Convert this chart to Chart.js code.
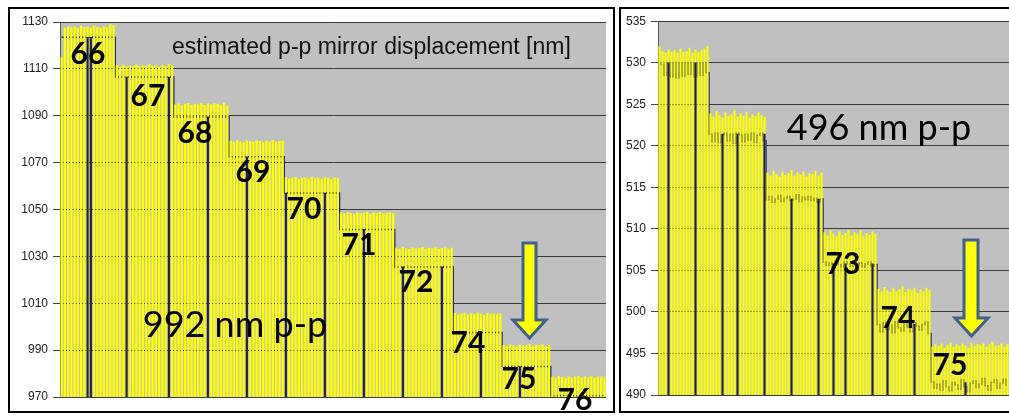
<!DOCTYPE html>
<html><head><meta charset="utf-8">
<script src="https://cdn.jsdelivr.net/npm/chart.js@4.4.1/dist/chart.umd.min.js"></script>
<style>
html,body{margin:0;padding:0;background:#fff;width:1009px;height:416px;overflow:hidden;}
body{position:relative;font-family:'Liberation Sans',Arial,sans-serif;}
.frame{position:absolute;border:2.5px solid #000;box-sizing:border-box;}
#frameL{left:8px;top:7px;width:607px;height:406px;}
#frameR{left:619px;top:7px;width:400px;height:406px;}
canvas{position:absolute;}
#cL{left:10px;top:9px;}
#cR{left:622px;top:9px;}
.lbl{position:absolute;font-family:Lato,'Open Sans',sans-serif;font-weight:700;font-size:30px;color:#000;transform:translate(-50%,-50%);line-height:1;white-space:nowrap;}
.big{position:absolute;font-family:Lato,'Open Sans',sans-serif;font-weight:400;font-size:36px;color:#000;line-height:1;white-space:nowrap;transform:translate(-50%,-50%);}
#title{position:absolute;left:172px;top:35px;font-size:23px;line-height:1;color:#111;white-space:nowrap;font-family:'Liberation Sans',Arial,sans-serif;}
svg.arrow{position:absolute;overflow:visible;}
</style>
</head><body>
<div class="frame" id="frameL"></div>
<div class="frame" id="frameR"></div>
<canvas id="cL" width="600" height="402"></canvas>
<canvas id="cR" width="387" height="402"></canvas>

<div id="title">estimated p-p mirror displacement [nm]</div>
<div class="big" style="left:235px;top:323px;">992 nm p-p</div>
<div class="big" style="left:879px;top:126px;">496 nm p-p</div>

<div class="lbl" style="left:88px;top:52px;">66</div>
<div class="lbl" style="left:148px;top:94px;">67</div>
<div class="lbl" style="left:195px;top:131px;">68</div>
<div class="lbl" style="left:253px;top:170px;">69</div>
<div class="lbl" style="left:304px;top:207px;">70</div>
<div class="lbl" style="left:359px;top:243px;">71</div>
<div class="lbl" style="left:416px;top:280px;">72</div>
<div class="lbl" style="left:468px;top:341px;">74</div>
<div class="lbl" style="left:519px;top:377px;">75</div>
<div class="lbl" style="left:575px;top:398px;">76</div>
<div class="lbl" style="left:843px;top:262px;">73</div>
<div class="lbl" style="left:898px;top:316px;">74</div>
<div class="lbl" style="left:950px;top:363px;">75</div>

<svg class="arrow" style="left:0;top:0;" width="1009" height="416">
  <polygon points="523,243 536,243 536,320 546,320 529.5,338 513,320 523,320" fill="#ffff00" stroke="#41608f" stroke-width="3" stroke-linejoin="miter"/>
  <polygon points="964,240 978,240 978,318 988,318 971.5,336 955,318 964,318" fill="#ffff00" stroke="#41608f" stroke-width="3" stroke-linejoin="miter"/>
</svg>

<script>
// ---------- LEFT PANEL (992 nm p-p) ----------
const leftTicks = [970, 990, 1010, 1030, 1050, 1070, 1090, 1110, 1130];
// yellow trace: top of each spike (nm)
const leftYellow = [
  // 66
  1115, 1127.5, 1128.3, 1127.8, 1128, 1127.6, 1128.4, 1127.9, 1128.1, 1127.7, 1128.5, 1128, 1127.6, 1128.2, 1127.8, 1129, 1128.6,
  // 67
  1111.5, 1111, 1111.8, 1110.9, 1111.4, 1111.2, 1111.9, 1111, 1111.6, 1111.3, 1112, 1111.1, 1111.5, 1110.8, 1111.7, 1111.2, 1112.1, 1111.4,
  // 68
  1094.8, 1095.2, 1094.5, 1095, 1095.4, 1094.7, 1095.1, 1094.9, 1095.5, 1094.6, 1095.2, 1094.8, 1095.3, 1095, 1094.7, 1095.6, 1094.3,
  // 69
  1079.3, 1078.8, 1079.5, 1079, 1078.6, 1079.4, 1079.1, 1078.9, 1079.6, 1079.2, 1078.7, 1079.3, 1079, 1079.5, 1078.8, 1079.2, 1079.4,
  // 70
  1063.8, 1063.2, 1063.6, 1063.9, 1063.1, 1063.5, 1063.7, 1063.3, 1064, 1063.4, 1063.6, 1063.2, 1063.8, 1063.5, 1063, 1063.7, 1063.4,
  // 71
  1048.7, 1048.3, 1048.9, 1048.5, 1048.1, 1048.8, 1048.4, 1048.6, 1049, 1048.2, 1048.7, 1048.5, 1048.9, 1048.3, 1048.6, 1048.8, 1048.4,
  // 72
  1033.7, 1033.3, 1033.9, 1033.5, 1033.1, 1033.8, 1033.4, 1033.6, 1034, 1033.2, 1033.7, 1033.5, 1033.9, 1033.3, 1033.6, 1033.8, 1033.4, 1033.7,
  // 74
  1005.8, 1005.3, 1005.6, 1006, 1005.2, 1005.7, 1005.4, 1005.9, 1005.5, 1005.1, 1005.8, 1005.4, 1005.6, 1005.3, 1005.7,
  // 75
  992.2, 991.8, 992.4, 992, 991.6, 992.3, 991.9, 992.1, 992.5, 991.7, 992.2, 992, 992.4, 991.8, 992.3,
  // 76
  978.7, 978.2, 978.9, 978.5, 978.1, 978.8, 978.4, 978.6, 979, 978.3, 978.7, 978.5, 978.9, 978.2, 978.6, 978.8, 978.4
];
// blue trace level (nm)
const leftBlue = [
  1123.5, 1123.5, 1123.5, 1123.5, 1123.5, 1123.5, 1123.5, 1123.5, 1123.5, 1123.5, 1123.5, 1123.5, 1123.5, 1123.5, 1123.5, 1123.5, 1123.5,
  1106.5, 1106.5, 1106.5, 1106.5, 1106.5, 1106.5, 1106.5, 1106.5, 1106.5, 1106.5, 1106.5, 1106.5, 1106.5, 1106.5, 1106.5, 1106.5, 1106.5, 1106.5,
  1089.5, 1089.5, 1089.5, 1089.5, 1089.5, 1089.5, 1089.5, 1089.5, 1089.5, 1089.5, 1089.5, 1089.5, 1089.5, 1089.5, 1089.5, 1089.5, 1089.5,
  1072.5, 1072.5, 1072.5, 1072.5, 1072.5, 1072.5, 1072.5, 1072.5, 1072.5, 1072.5, 1072.5, 1072.5, 1072.5, 1072.5, 1072.5, 1072.5, 1072.5,
  1057, 1057, 1057, 1057, 1057, 1057, 1057, 1057, 1057, 1057, 1057, 1057, 1057, 1057, 1057, 1057, 1057,
  1041.5, 1041.5, 1041.5, 1041.5, 1041.5, 1041.5, 1041.5, 1041.5, 1041.5, 1041.5, 1041.5, 1041.5, 1041.5, 1041.5, 1041.5, 1041.5, 1041.5,
  1025.5, 1025.5, 1025.5, 1025.5, 1025.5, 1025.5, 1025.5, 1025.5, 1025.5, 1025.5, 1025.5, 1025.5, 1025.5, 1025.5, 1025.5, 1025.5, 1025.5, 1025.5,
  997.5, 997.5, 997.5, 997.5, 997.5, 997.5, 997.5, 997.5, 997.5, 997.5, 997.5, 997.5, 997.5, 997.5, 997.5,
  983, 983, 983, 983, 983, 983, 983, 983, 983, 983, 983, 983, 983, 983, 983,
  970.5, 970.5, 970.5, 970.5, 970.5, 970.5, 970.5, 970.5, 970.5, 970.5, 970.5, 970.5, 970.5, 970.5, 970.5, 970.5, 970.5
];
// samples where the blue trace drops out to the bottom
const leftDropIdx = [8, 9, 20, 33, 45, 57, 69, 81, 93, 105, 117, 129, 141];
const leftDropVal = [1123.5, 1123.5, 1106.5, 1106.5, 1089.5, 1072.5, 1057, 1057, 1041.5, 1025.5, 1025.5, 997.5, 983];

// ---------- RIGHT PANEL (496 nm p-p) ----------
const rightTicks = [490, 495, 500, 505, 510, 515, 520, 525, 530, 535];
const rightYellow = [
  532, 531.4, 531.2, 531.6, 531.3, 531.5, 531.2, 531.7, 531.3, 531.4, 531.8, 531.2, 531.6, 531.3, 531.5, 531.7, 532,
  523.9, 523.5, 524.2, 523.7, 523.4, 524, 523.6, 523.8, 524.3, 523.5, 523.9, 523.6, 524.1, 523.4, 523.8, 523.6, 524, 523.7, 523.5,
  516.8, 516.4, 517, 516.6, 516.3, 516.9, 516.5, 516.7, 517.1, 516.4, 516.8, 516.5, 516.9, 516.3, 516.7, 516.6, 517, 516.4, 516.8,
  509.6, 509.2, 509.8, 509.4, 509.1, 509.7, 509.3, 509.5, 509.9, 509.2, 509.6, 509.4, 509.8, 509.1, 509.5, 509.3, 509.7, 509.4,
  502.8, 502.5, 503, 502.6, 502.4, 502.9, 502.5, 502.7, 503.1, 502.4, 502.8, 502.6, 502.9, 502.3, 502.7, 502.5, 502.9, 502.6,
  495.8, 496.1, 495.9, 496.2, 495.7, 496, 496.3, 495.8, 496.1, 495.9, 496.2, 496, 495.7, 496.3, 495.9, 496.1, 496, 496.2, 495.8, 496.1, 496.4, 495.9, 496, 496.2, 495.8, 496.1
];
const rightBlue = [
  530, 529.8, 528.5, 530, 528.3, 530, 528.2, 529.9, 528.4, 530, 528.6, 530, 528.3, 529.9, 528.5, 530, 528.8,
  521.4, 520.5, 521.5, 520.4, 521.3, 521.5, 520.6, 521.4, 520.3, 521.5, 521.3, 520.5, 521.4, 520.7, 521.5, 520.4, 521.3, 521.5, 520.6,
  513.5, 513.9, 513.2, 513.6, 514, 513.3, 513.7, 513.9, 513.4, 513.6, 514.1, 513.3, 513.8, 513.5, 513.9, 513.4, 513.7, 513.2, 513.6,
  506, 505.6, 505.9, 505.3, 506.1, 505.7, 505.4, 506, 505.8, 505.5, 506.1, 505.6, 505.9, 505.4, 505.8, 506, 505.5, 505.7,
  498.5, 497.6, 498.7, 497.9, 498.4, 497.5, 498.8, 498.1, 497.7, 498.6, 498.2, 497.6, 498.7, 498.3, 497.8, 498.5, 498.8, 497.4,
  491.6, 490.8, 491.3, 490.6, 491.7, 491, 490.5, 491.5, 491.2, 490.7, 491.8, 491, 490.4, 491.4, 491.7, 490.9, 491.3, 492, 491.1, 490.6, 491.5, 491.8, 490.8, 491.4, 491.9, 491.2
];
const rightDropIdx = [3, 12, 21, 26, 35, 44, 53, 58, 62, 71, 76, 85, 102];
const rightDropVal = [530, 530, 521.4, 521.4, 521.4, 513.6, 513.6, 505.8, 505.8, 505.8, 498.5, 498.5, 491.5];

// ---------- helpers ----------
function sparse(n, idx, val) {
  const a = new Array(n).fill(null);
  idx.forEach((k, j) => { a[k] = val[j]; });
  return a;
}
const plotBg = {
  id: 'plotBg',
  beforeDraw(chart) {
    const {ctx, chartArea: a} = chart;
    ctx.save();
    ctx.fillStyle = '#c0c0c0';
    ctx.fillRect(a.left, a.top, a.right - a.left, a.bottom - a.top);
    ctx.restore();
  }
};

function makeChart(id, yellow, blue, dropIdx, dropVal, ticks, axisW, pad) {
  const n = yellow.length;
  const labels = yellow.map((_, i) => i + 1);
  return new Chart(document.getElementById(id), {
    type: 'bar',
    data: {
      labels,
      datasets: [
        { type: 'bar', data: sparse(n, dropIdx, dropVal), backgroundColor: '#1e1e58', barThickness: 1.5, grouped: false, order: 0 },
        { type: 'bar', data: yellow, backgroundColor: '#ffff00', barPercentage: 0.7, categoryPercentage: 1, grouped: false, order: 1 },
        { type: 'line', data: blue, borderColor: '#23238c', borderWidth: 1.5, pointRadius: 0, stepped: 'middle', order: 2 }
      ]
    },
    options: {
      responsive: false,
      animation: false,
      devicePixelRatio: 1,
      layout: { padding: pad },
      plugins: { legend: { display: false }, tooltip: { enabled: false } },
      scales: {
        x: { display: false },
        y: {
          min: ticks[0], max: ticks[ticks.length - 1],
          afterBuildTicks(s) { s.ticks = ticks.map(v => ({ value: v })); },
          afterFit(s) { s.width = axisW; },
          grid: { color: '#3a3a3a', lineWidth: 1, tickLength: 7, tickColor: '#444' },
          border: { display: true, color: '#555', width: 1 },
          ticks: { font: { family: 'Liberation Sans', size: 12 }, color: '#222', padding: 5, callback: v => String(v) }
        }
      }
    },
    plugins: [plotBg]
  });
}

makeChart('cL', leftYellow, leftBlue, leftDropIdx, leftDropVal, leftTicks, 50, { top: 13, right: 4, bottom: 14, left: 0 });
makeChart('cR', rightYellow, rightBlue, rightDropIdx, rightDropVal, rightTicks, 36, { top: 11, right: 0, bottom: 16, left: 0 });
</script>
</body></html>
